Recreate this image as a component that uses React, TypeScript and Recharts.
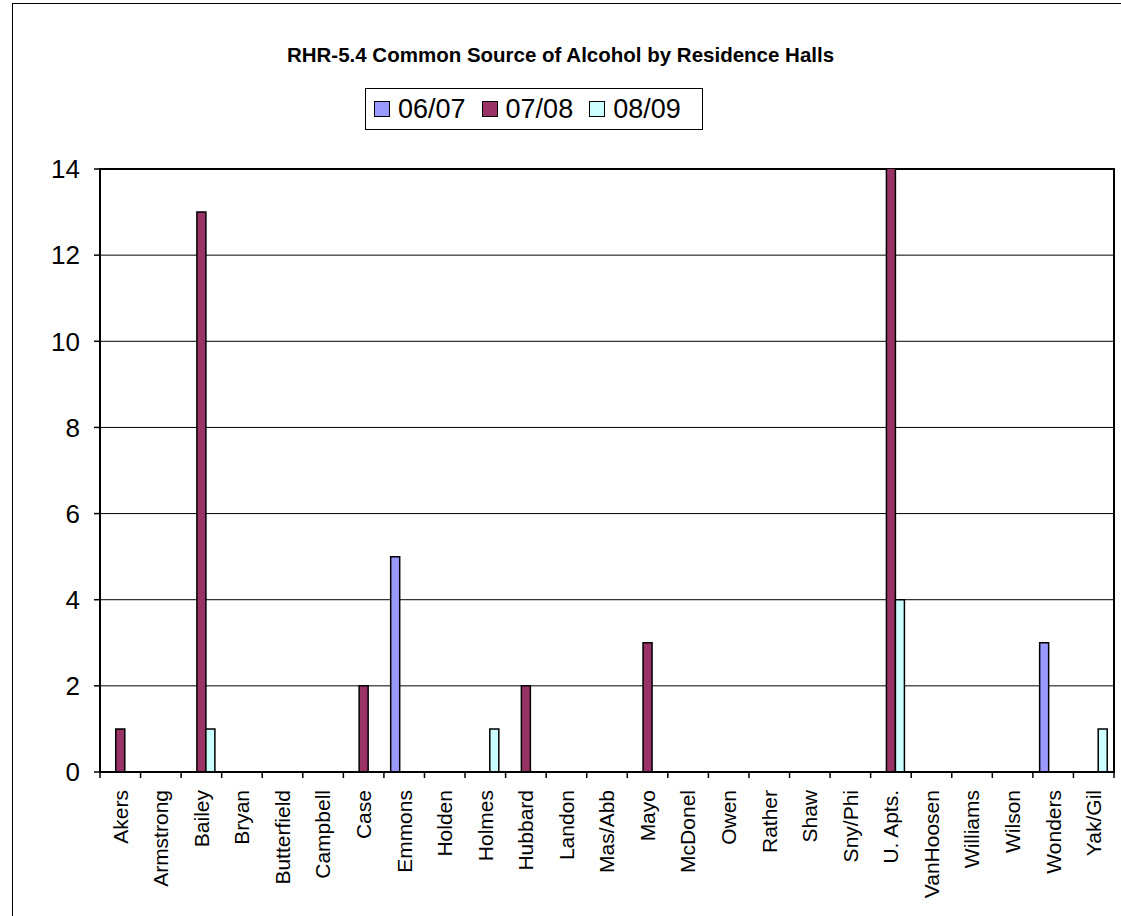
import React from "react";
import { Bar, BarChart, CartesianGrid, Legend, ReferenceArea, XAxis, YAxis } from "recharts";

const halls = [
  "Akers", "Armstrong", "Bailey", "Bryan", "Butterfield", "Campbell", "Case", "Emmons",
  "Holden", "Holmes", "Hubbard", "Landon", "Mas/Abb", "Mayo", "McDonel", "Owen",
  "Rather", "Shaw", "Sny/Phi", "U. Apts.", "VanHoosen", "Williams", "Wilson", "Wonders", "Yak/Gil",
];
const season0607 = [0, 0, 0, 0, 0, 0, 0, 5, 0, 0, 0, 0, 0, 0, 0, 0, 0, 0, 0, 0, 0, 0, 0, 3, 0];
const season0708 = [1, 0, 13, 0, 0, 0, 2, 0, 0, 0, 2, 0, 0, 3, 0, 0, 0, 0, 0, 15, 0, 0, 0, 0, 0];
const season0809 = [0, 0, 1, 0, 0, 0, 0, 0, 0, 1, 0, 0, 0, 0, 0, 0, 0, 0, 0, 4, 0, 0, 0, 0, 1];
const yTicks = [0, 2, 4, 6, 8, 10, 12, 14];

const rows = halls.map((hall, i) => ({
  hall,
  s0607: season0607[i],
  s0708: season0708[i],
  s0809: season0809[i],
}));

const FONT = "'Liberation Sans', Arial, sans-serif";

function HallTick(props: any) {
  const { x, y, payload, index } = props;
  const half = payload?.offset ?? 0;
  const ly = y + 18;
  return (
    <g>
      {index === 0 && (
        <line x1={x - half} x2={x - half} y1={y} y2={y + 6} stroke="#000" strokeWidth={1.5} />
      )}
      <line x1={x + half} x2={x + half} y1={y} y2={y + 6} stroke="#000" strokeWidth={1.5} />
      <text
        x={x}
        y={ly}
        transform={`rotate(-90 ${x} ${ly})`}
        textAnchor="end"
        dy="0.35em"
        fontSize={21}
        fontFamily={FONT}
        fill="#000"
      >
        {payload.value}
      </text>
    </g>
  );
}

function LegendBox(props: any) {
  const items = props.payload ?? [];
  return (
    <div
      style={{
        boxSizing: "border-box",
        width: 338,
        height: 42,
        border: "1px solid #000",
        background: "#fff",
        display: "flex",
        alignItems: "center",
        paddingLeft: 8,
        fontFamily: FONT,
        fontSize: 27,
        lineHeight: 1,
        color: "#000",
      }}
    >
      {items.map((item: any) => (
        <span key={item.value} style={{ display: "flex", alignItems: "center", marginRight: 16 }}>
          <span
            style={{
              boxSizing: "border-box",
              width: 16,
              height: 16,
              background: item.color,
              border: "1.5px solid #000",
              marginRight: 8,
            }}
          />
          {item.value}
        </span>
      ))}
    </div>
  );
}

export default function App() {
  return (
    <div
      style={{
        position: "absolute",
        left: 0,
        top: 0,
        width: 1121,
        height: 916,
        overflow: "hidden",
        background: "#fff",
      }}
    >
      <div
        style={{
          position: "absolute",
          left: 12,
          top: 3,
          width: 1200,
          height: 1000,
          borderTop: "1px solid #000",
          borderLeft: "1px solid #000",
        }}
      />
      <div
        style={{
          position: "absolute",
          top: 43,
          left: 0,
          width: 1121,
          textAlign: "center",
          fontFamily: FONT,
          fontWeight: "bold",
          fontSize: 20.5,
          lineHeight: "23px",
          color: "#000",
        }}
      >
        RHR-5.4 Common Source of Alcohol by Residence Halls
      </div>
      <BarChart
        width={1121}
        height={916}
        data={rows}
        margin={{ top: 169, right: 7, bottom: 0, left: 0 }}
        barCategoryGap="16.7%"
        barGap={0}
      >
        <CartesianGrid vertical={false} stroke="#000" strokeWidth={1} />
        <XAxis
          dataKey="hall"
          interval={0}
          height={144}
          tickSize={0}
          tickMargin={0}
          tickLine={false}
          axisLine={{ stroke: "#000", strokeWidth: 2 }}
          tick={<HallTick />}
        />
        <YAxis
          domain={[0, 14]}
          ticks={yTicks}
          allowDataOverflow
          interval={0}
          width={100}
          tickSize={6}
          tickMargin={14}
          tickLine={{ stroke: "#000", strokeWidth: 1.5 }}
          axisLine={{ stroke: "#000", strokeWidth: 2 }}
          tick={{ fill: "#000", fontSize: 26, fontFamily: FONT }}
        />
        <Legend
          layout="horizontal"
          verticalAlign="middle"
          align="center"
          wrapperStyle={{ left: 365, top: 88, width: 338, height: 42 }}
          content={<LegendBox />}
        />
        <Bar dataKey="s0607" name="06/07" fill="#9999FF" stroke="#000" strokeWidth={1.5} isAnimationActive={false} />
        <Bar dataKey="s0708" name="07/08" fill="#993366" stroke="#000" strokeWidth={1.5} isAnimationActive={false} />
        <Bar dataKey="s0809" name="08/09" fill="#CCFFFF" stroke="#000" strokeWidth={1.5} isAnimationActive={false} />
        <ReferenceArea y1={0} y2={14} fill="none" stroke="#000" strokeWidth={2} />
      </BarChart>
    </div>
  );
}
